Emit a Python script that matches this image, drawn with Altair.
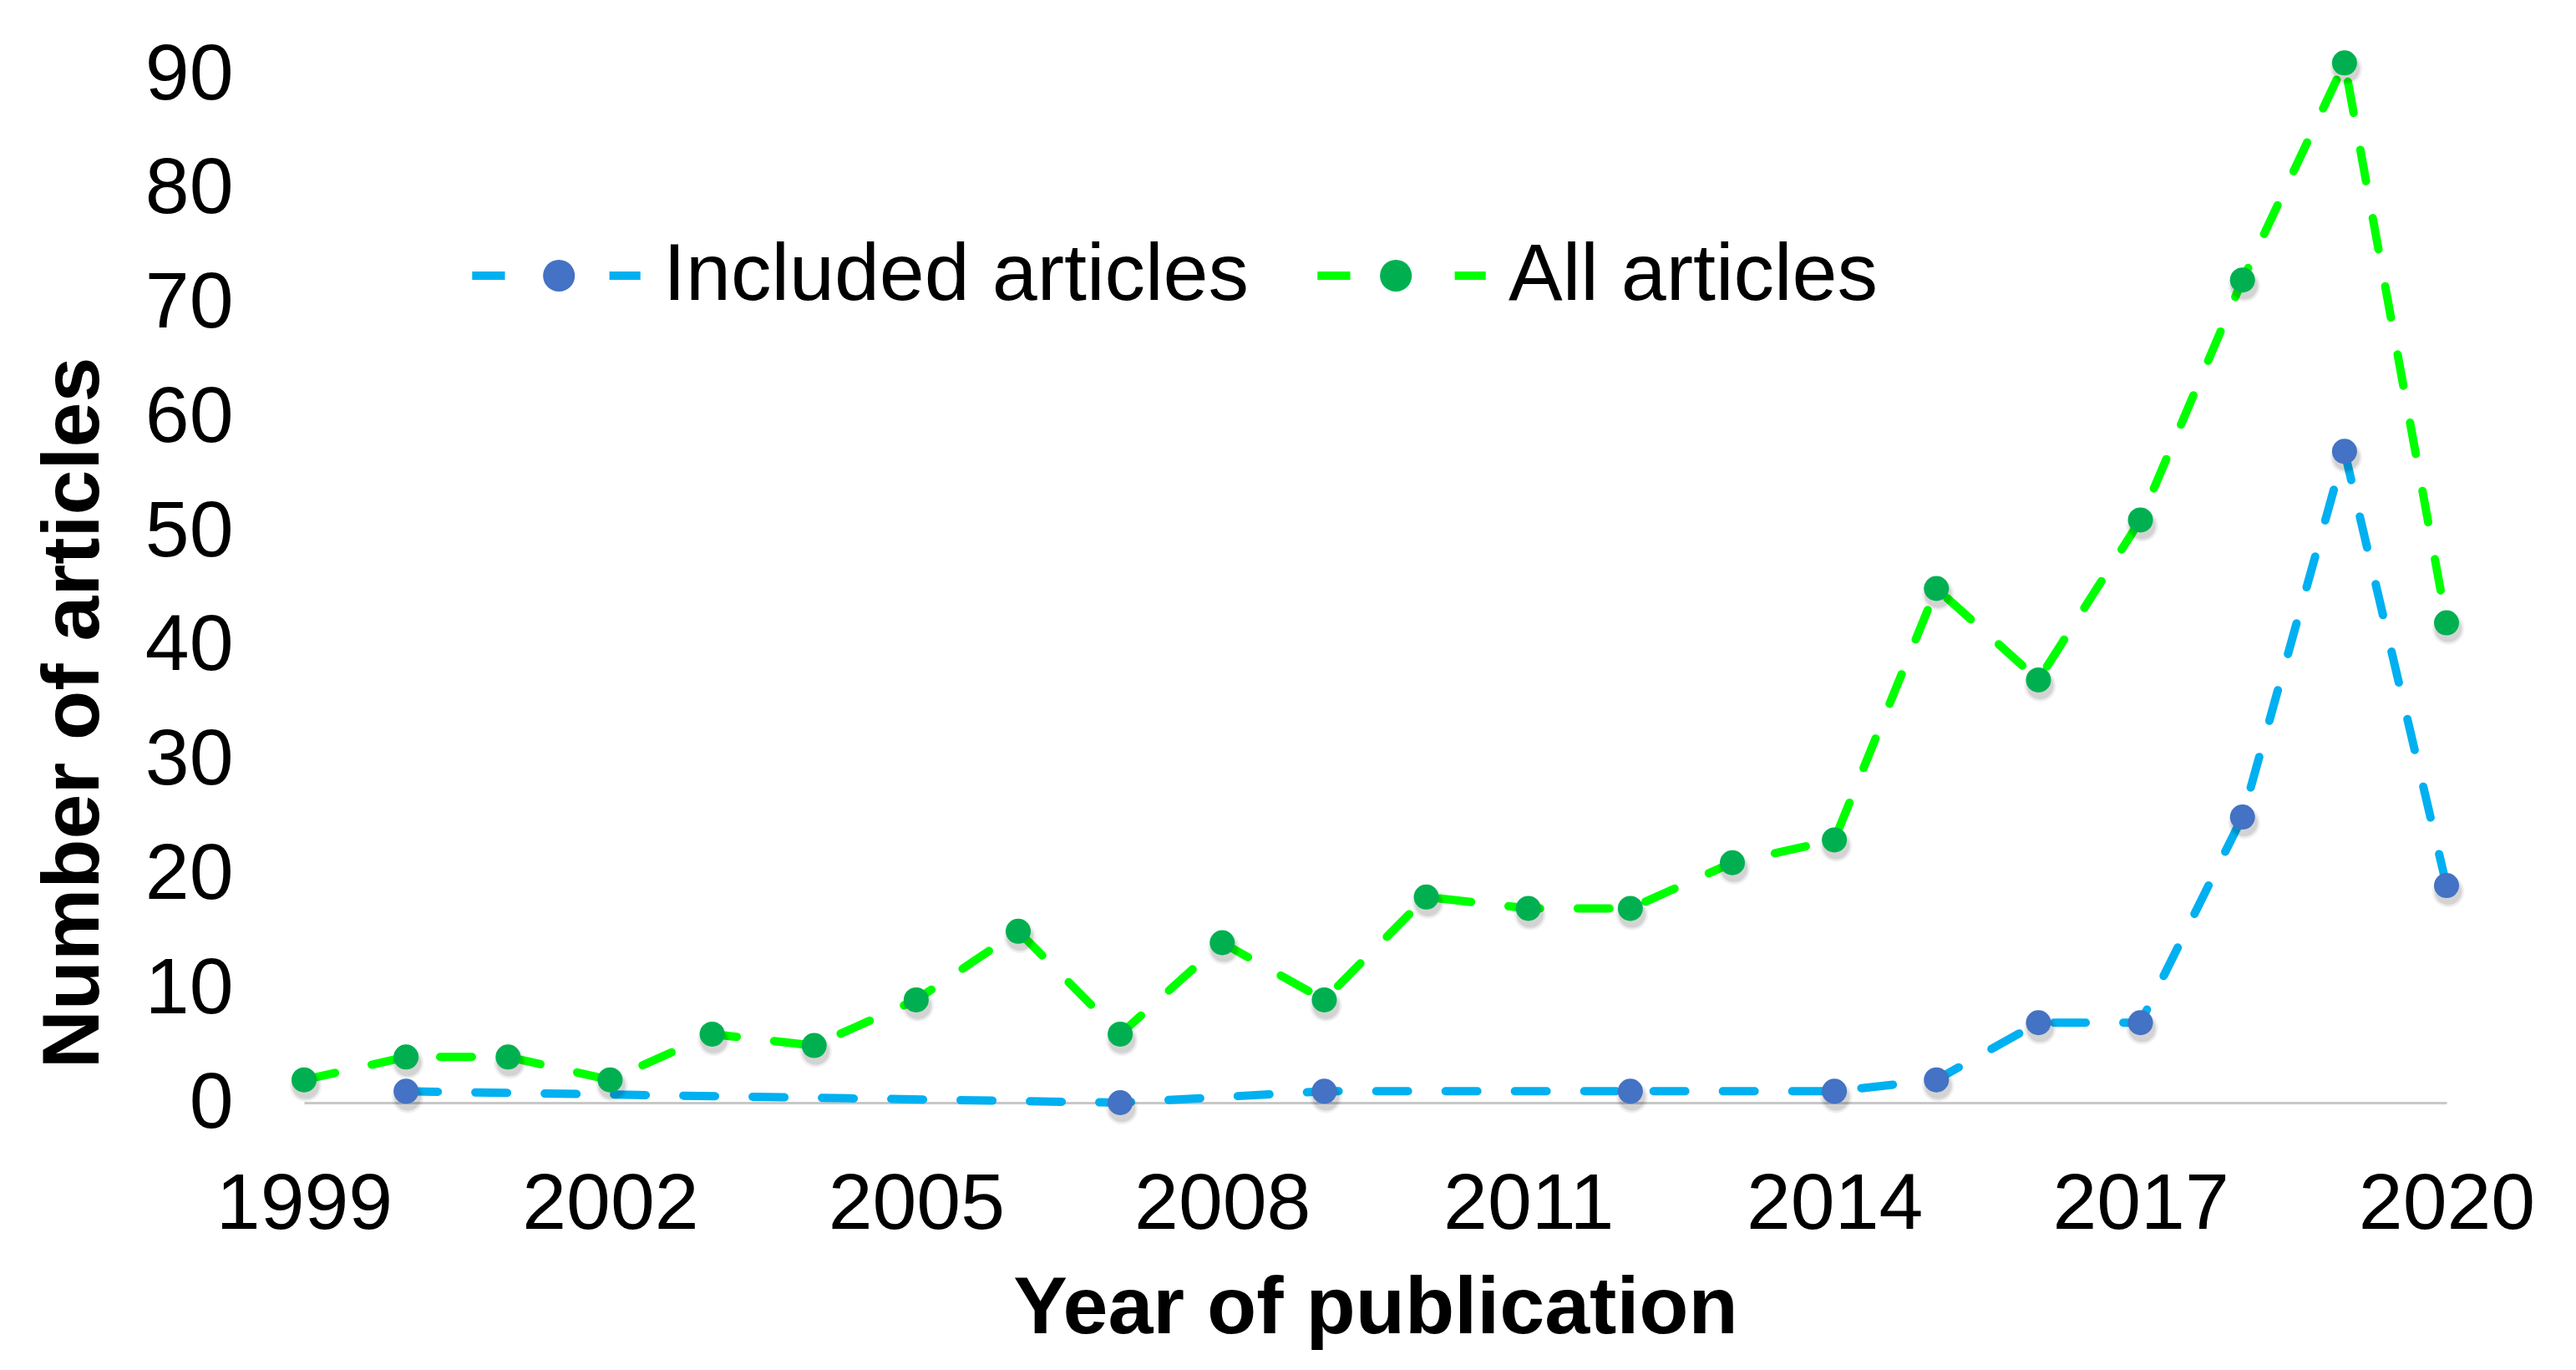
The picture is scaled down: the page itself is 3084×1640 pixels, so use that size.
import altair as alt
import pandas as pd

# ---------------- data ----------------
years = list(range(1999, 2021))
all_articles = [2, 4, 4, 2, 6, 5, 9, 15, 6, 14, 9, 18, 17, 17, 21, 23, 45, 37, 51, 72, 91, 42]
included_years = [2000, 2007, 2009, 2012, 2014, 2015, 2016, 2017, 2018, 2019, 2020]
included_values = [1, 0, 1, 1, 1, 2, 7, 7, 25, 57, 19]

series_names = ["Included articles", "All articles"]
line_colors = ["#00B0F0", "#00FF00"]
marker_colors = ["#4472C4", "#00B050"]
x_ticks = [1999, 2002, 2005, 2008, 2011, 2014, 2017, 2020]
y_ticks = [0, 10, 20, 30, 40, 50, 60, 70, 80, 90]

rows = []
for yr, v in zip(included_years, included_values):
    rows.append({"year": yr, "value": v, "series": series_names[0]})
for yr, v in zip(years, all_articles):
    rows.append({"year": yr, "value": v, "series": series_names[1]})
df = pd.DataFrame(rows)
df["series_pt"] = df["series"]

FONT = "Liberation Sans"

x_enc = alt.X(
    "year:Q",
    scale=alt.Scale(domain=[1999, 2020], nice=False, zero=False),
    axis=alt.Axis(
        values=x_ticks, format="d", title="Year of publication",
        grid=False, ticks=False, tickSize=0,
        domainColor="#C8C8C8", domainWidth=3,
        labelFontSize=95, labelPadding=75, labelColor="black", labelLimit=1000,
        labelFlush=False, labelOverlap=False, labelBound=False,
        titleFontSize=97, titleFontWeight="bold", titleColor="black",
        titleBaseline="alphabetic", titleY=275, titleLimit=3000,
    ),
)
y_enc = alt.Y(
    "value:Q",
    scale=alt.Scale(domain=[0, 90], nice=False),
    axis=alt.Axis(
        values=y_ticks, title="Number of articles",
        grid=False, domain=False, ticks=False, tickSize=0,
        labelFontSize=95, labelPadding=85, labelColor="black", labelLimit=1000,
        labelFlush=False, labelOverlap=False,
        titleFontSize=97, titleFontWeight="bold", titleColor="black",
        titleAngle=270, titleBaseline="alphabetic", titleAlign="center",
        titleX=-247, titleY=764, titleLimit=3000,
    ),
)

LABEL_SIZE = 97
LABEL_OFFSET = 17
COL_PAD = 62
# width of the first legend label (Arial/Liberation Sans advance widths, em units)
first_label_em = 7.225

legend_common = dict(
    orient="none", legendX=191, legendY=130, direction="horizontal",
    title=None, symbolSize=44944, symbolStrokeWidth=10,
    labelFontSize=LABEL_SIZE, labelLimit=3000, labelOffset=LABEL_OFFSET,
    padding=0, labelFont=FONT,
)

lines = alt.Chart(df).mark_line(
    strokeWidth=10, strokeDash=[38, 45], strokeCap="round"
).encode(
    x=x_enc,
    y=y_enc,
    stroke=alt.Stroke(
        "series:N",
        scale=alt.Scale(domain=series_names, range=line_colors),
        legend=alt.Legend(
            symbolType="M-0.95,0L-0.58,0M0.6,0L0.95,0",
            symbolDash=[1000, 1],
            labelColor="black",
            columnPadding=COL_PAD,
            **legend_common,
        ),
    ),
)

shadow_layers = []
for sz, op in [(1500, 0.05), (1200, 0.06), (1000, 0.07)]:
    shadow_layers.append(
        alt.Chart(df).mark_point(
            filled=True, color="black", opacity=op, size=sz, yOffset=7, xOffset=2
        ).encode(x="year:Q", y="value:Q")
    )

points = alt.Chart(df).mark_point(
    filled=True, size=900, opacity=1, strokeWidth=0
).encode(
    x="year:Q",
    y="value:Q",
    fill=alt.Fill(
        "series_pt:N",
        sort=series_names,
        scale=alt.Scale(range=marker_colors),
        legend=alt.Legend(
            symbolType="M-0.15,0A0.18,0.18,0,1,1,0.21,0A0.18,0.18,0,1,1,-0.15,0Z",
            symbolStrokeColor="transparent",
            labelExpr="''",
            columnPadding=COL_PAD + round(first_label_em * LABEL_SIZE),
            **legend_common,
        ),
    ),
)

chart = alt.layer(lines, *shadow_layers, points).properties(
    width=2565,
    height=1231,
    padding={"left": 356, "top": 81, "right": 145, "bottom": 310},
    autosize=alt.AutoSizeParams(type="none"),
).configure(
    font=FONT,
).configure_view(
    stroke=None,
)

chart.save("out.html", embed_options={"renderer": "svg", "actions": False})
